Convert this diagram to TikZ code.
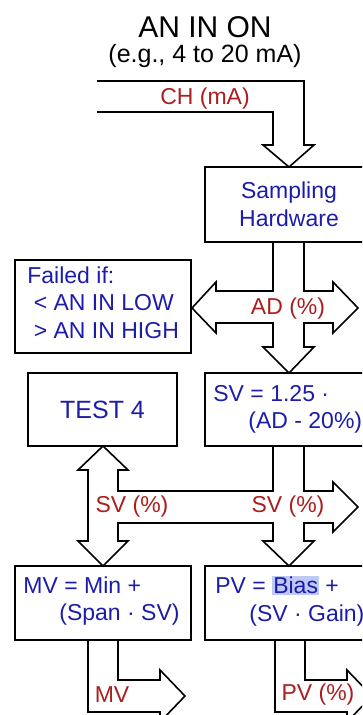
\documentclass[tikz,border=0pt]{standalone}
\usepackage{fontspec}
\setmainfont{Liberation Sans}
\usetikzlibrary{positioning}
\definecolor{txtblue}{RGB}{28,28,170}
\definecolor{sigred}{RGB}{172,30,30}
\definecolor{hlblue}{RGB}{192,200,245}

\begin{document}
\begin{tikzpicture}[x=1pt,y=-1pt,
    blk/.style={draw,line width=1.6pt,text=txtblue,inner sep=0pt,
        font=\fontsize{23}{27.5}\selectfont},
    txt/.style={text=txtblue,inner sep=0pt,align=left,
        font=\fontsize{23}{27.5}\selectfont},
    sig/.style={text=sigred,inner sep=0pt,font=\fontsize{23}{28}\selectfont},
    fat/.style={line width=1.6pt,line join=miter}]
\useasboundingbox (0,0) rectangle (362,715);
\clip (0,0) rectangle (362,715);

% heading
\node[font=\fontsize{30}{36}\selectfont] (title) at (205,27) {AN IN ON};
\node[font=\fontsize{25}{30}\selectfont] (range) at (205,56) {(e.g., 4 to 20 mA)};

% blocks
\node[blk,minimum width=168pt,minimum height=75pt,align=center] (samp) at (289,204.5) {Sampling\\Hardware};
\node[blk,minimum width=176pt,minimum height=93pt] (fail) at (103,306.5) {};
\node[txt,right=13pt of fail.west,yshift=4pt] (failtxt)
    {Failed if:\\\hspace*{0.28em}< AN IN LOW\\\hspace*{0.28em}> AN IN HIGH};
\node[blk,minimum width=149pt,minimum height=73pt,font=\fontsize{25}{30}\selectfont] (test) at (102.5,409.5) {TEST 4};
\node[blk,minimum width=168pt,minimum height=73pt] (sv) at (289,409.5) {};
\node[txt,right=9pt of sv.west] (svtxt) {SV = 1.25 ·\\\hspace*{35pt}(AD - 20\%)};
\node[blk,minimum width=176pt,minimum height=74pt] (mv) at (103,603) {};
\node[txt,right=9pt of mv.west,yshift=2pt] (mvtxt) {MV = Min +\\\hspace*{36pt}(Span · SV)};
\node[blk,minimum width=168pt,minimum height=74pt] (pv) at (289,603) {};
\node[txt,right=11pt of pv.west,yshift=2pt] (pvtxt)
    {PV = {\setlength\fboxsep{1pt}\colorbox{hlblue}{Bias}} +\\\hspace*{34pt}(SV · Gain)};

% fat arrows
\draw[fat] (97,81) -- (304,81) -- (304,145) -- (314,145) -- (289,167) -- (263,145)
    -- (273,145) -- (273,112) -- (97,112);
\draw[fat] (273,242) -- (273,291) -- (216,291) -- (216,282) -- (192,308) -- (216,333)
    -- (216,323) -- (273,323) -- (273,347) -- (263,347) -- (289,373) -- (314,347)
    -- (304,347) -- (304,323) -- (333,323) -- (333,333) -- (358,308) -- (333,282)
    -- (333,291) -- (304,291) -- (304,242);
\draw[fat] (273,446) -- (273,491) -- (118,491) -- (118,470) -- (128,470) -- (103,446)
    -- (78,470) -- (88,470) -- (88,541) -- (78,541) -- (103,566) -- (128,541)
    -- (118,541) -- (118,523) -- (273,523) -- (273,541) -- (263,541) -- (289,566)
    -- (314,541) -- (304,541) -- (304,523) -- (333,523) -- (333,532) -- (358,507)
    -- (333,482) -- (333,491) -- (304,491) -- (304,446);
\draw[fat] (88,640) -- (88,712) -- (160,712) -- (160,722) -- (185,696) -- (160,670)
    -- (160,680) -- (118,680) -- (118,640);
\draw[fat] (275,640) -- (275,712) -- (347,712) -- (347,722) -- (372,696) -- (347,670)
    -- (347,680) -- (305,680) -- (305,640);

% signal labels
\node[sig] (ch) at (205,99) {CH (mA)};
\node[sig] (ad) at (288,309) {AD (\%)};
\node[sig] (svl) at (132,507) {SV (\%)};
\node[sig] (svr) at (288,507) {SV (\%)};
\node[sig] (mvl) at (112,695) {MV};
\node[sig] (pvl) at (318,695) {PV (\%)};
\end{tikzpicture}
\end{document}
